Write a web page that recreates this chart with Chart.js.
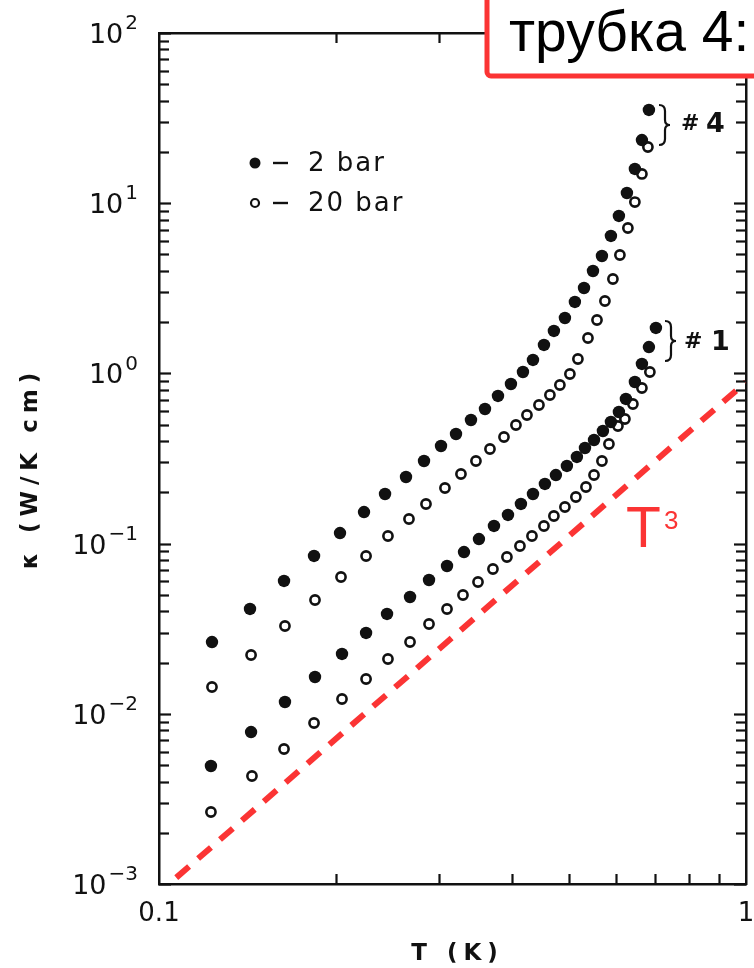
<!DOCTYPE html>
<html><head><meta charset="utf-8">
<script src="https://cdn.jsdelivr.net/npm/chart.js@4.4.1/dist/chart.umd.min.js"></script>
<style>html,body{margin:0;padding:0;background:#fff;overflow:hidden}canvas{display:block}</style>
</head><body>
<canvas id="c" width="754" height="968"></canvas>
<script>
// ---- data (T in K, kappa in W/K cm) ----
const T_4_2bar = [0.1231,0.1429,0.1633,0.1837,0.2034,0.2235,0.2427,0.2635,0.2828,0.3023,0.3206,0.3400,0.3592,0.3780,0.3977,0.4169,0.4336,0.4527,0.4707,0.4915,0.5111,0.5297,0.5487,0.5683,0.5887,0.6074,0.6268,0.6467,0.6648,0.6833];
const K_4_2bar = [0.0264,0.0413,0.0603,0.0846,0.1154,0.1533,0.1956,0.2462,0.3057,0.3745,0.4405,0.5323,0.6178,0.7368,0.8664,1.019,1.199,1.469,1.775,2.116,2.628,3.175,3.996,4.895,6.418,8.413,11.48,15.89,23.51,35.29];

const T_4_20bar = [0.1231,0.1435,0.1639,0.1844,0.2042,0.2253,0.2455,0.2666,0.2850,0.3070,0.3269,0.3467,0.3663,0.3870,0.4056,0.4235,0.4439,0.4634,0.4819,0.5012,0.5172,0.5380,0.5574,0.5750,0.5933,0.6098,0.6292,0.6467,0.6648,0.6806];
const K_4_20bar = [0.01437,0.02216,0.0328,0.04663,0.06366,0.08455,0.1108,0.1395,0.1709,0.2121,0.2564,0.3057,0.3596,0.4230,0.4974,0.5695,0.6523,0.7466,0.8548,0.9919,1.215,1.614,2.060,2.663,3.586,4.962,7.150,10.16,14.85,21.39];

const T_1_2bar = [0.1226,0.1435,0.1639,0.1844,0.2050,0.2253,0.2446,0.2677,0.2884,0.3095,0.3308,0.3508,0.3721,0.3931,0.4136,0.4336,0.4544,0.4744,0.4953,0.5151,0.5317,0.5509,0.5705,0.5887,0.6074,0.6243,0.6467,0.6648,0.6833,0.7023];
const K_1_2bar = [0.004935,0.007816,0.01173,0.01645,0.02246,0.02984,0.03859,0.04856,0.06112,0.07385,0.08922,0.1064,0.1269,0.1473,0.1709,0.1956,0.2240,0.2529,0.2858,0.3228,0.3645,0.4062,0.4587,0.5181,0.5932,0.7075,0.8902,1.136,1.429,1.849];

const T_1_20bar = [0.1226,0.1440,0.1633,0.1837,0.2050,0.2253,0.2455,0.2677,0.2884,0.3095,0.3295,0.3495,0.3706,0.3915,0.4120,0.4319,0.4527,0.4707,0.4915,0.5131,0.5338,0.5509,0.5683,0.5841,0.6051,0.6219,0.6417,0.6648,0.6859];
const K_1_20bar = [0.002649,0.004311,0.006211,0.008829,0.01222,0.01601,0.02099,0.02642,0.03370,0.04128,0.04989,0.05949,0.07091,0.08341,0.09681,0.1108,0.1269,0.1453,0.1641,0.1878,0.2150,0.2529,0.3057,0.3848,0.4907,0.5395,0.6611,0.8209,1.019];

// red dashed T^3 guide line (end points)
const T3_T = [0.107, 1.0];
const T3_K = [0.00109, 0.89];

// axis tick labels
const yTickVals = [0.001, 0.01, 0.1, 1, 10, 100];
const yTickExp  = ['\u22123', '\u22122', '\u22121', '0', '1', '2'];
const xTickVals = [0.1, 1];
const xTickText = ['0.1', '1'];

const legendText = ['2 bar', '20 bar'];
const xTitle = 'T (K)';
const yTitle = '\u03BA (W/K cm)';
const boxText = 'трубка 4:';

// ---- styling ----
const INK = '#111111';
const RED = '#fb3434';
const FONT = '"DejaVu Sans", sans-serif';

const pts = (xs, ys) => xs.map((x, i) => ({x: x, y: ys[i]}));
const filled = (d) => ({data: d, showLine: false, pointRadius: 6.2, pointHoverRadius: 6.2,
  pointBackgroundColor: INK, pointBorderColor: INK, pointBorderWidth: 0});
const open = (d) => ({data: d, showLine: false, pointRadius: 4.6, pointHoverRadius: 4.6,
  pointBackgroundColor: '#fff', pointBorderColor: INK, pointBorderWidth: 2.6});

const decor = {
  id: 'decor',
  afterDraw(chart) {
    const c = chart.ctx, xs = chart.scales.x, ys = chart.scales.y, a = chart.chartArea;
    const line = (x1, y1, x2, y2) => { c.beginPath(); c.moveTo(x1, y1); c.lineTo(x2, y2); c.stroke(); };
    c.save();
    c.strokeStyle = INK; c.fillStyle = INK; c.lineWidth = 2.2; c.lineCap = 'butt';
    // inner ticks, y (left & right)
    for (let e = -3; e <= 2; e++) {
      for (let m = 1; m <= 9; m++) {
        const v = m * Math.pow(10, e);
        if (v > 100.0001) break;
        const y = Math.round(ys.getPixelForValue(v)) + 0.5;
        const L = (m === 1) ? 12 : 10;
        line(a.left, y, a.left + L, y);
        line(a.right, y, a.right - L, y);
      }
    }
    // inner ticks, x (bottom & top)
    for (let m = 2; m <= 9; m++) {
      const x = Math.round(xs.getPixelForValue(m / 10)) + 0.5;
      line(x, a.bottom, x, a.bottom - 10);
      line(x, a.top, x, a.top + 10);
    }
    // y tick labels 10^n
    c.textBaseline = 'middle'; c.textAlign = 'right';
    yTickVals.forEach((v, i) => {
      const y = ys.getPixelForValue(v) + 3;
      c.font = '20px ' + FONT;
      const ew = c.measureText(yTickExp[i]).width;
      c.fillText(yTickExp[i], 138, y - 12);
      c.font = '27px ' + FONT;
      c.fillText('10', 138 - ew - 2, y);
    });
    // x tick labels
    c.textAlign = 'center';
    c.font = '26px ' + FONT;
    xTickVals.forEach((v, i) => {
      c.fillText(xTickText[i], xs.getPixelForValue(v), a.bottom + 30);
    });
    // axis titles
    c.font = 'bold 23px ' + FONT;
    c.letterSpacing = '6px';
    c.fillText(xTitle, (a.left + a.right) / 2 + 5, a.bottom + 70);
    c.save();
    c.translate(31, 468);
    c.rotate(-Math.PI / 2);
    c.letterSpacing = '6px';
    c.fillText(yTitle, 0, 0);
    c.restore();
    c.letterSpacing = '0px';
    // legend
    c.textAlign = 'left';
    c.font = '26px ' + FONT;
    c.letterSpacing = '2px';
    c.beginPath(); c.arc(255, 163, 5.5, 0, Math.PI * 2); c.fill();
    c.beginPath(); c.arc(255, 203, 4, 0, Math.PI * 2); c.lineWidth = 2.2; c.stroke();
    c.lineWidth = 2.4;
    line(273, 163, 288, 163);
    line(273, 203, 288, 203);
    c.fillText(legendText[0], 308, 164);
    c.fillText(legendText[1], 308, 204);
    c.letterSpacing = '0px';
    // braces with sample labels
    const brace = (x, y1, y2) => {
      const ym = (y1 + y2) / 2, w = 6;
      c.lineWidth = 2.2;
      c.beginPath();
      c.moveTo(x, y1);
      c.quadraticCurveTo(x + w, y1, x + w, y1 + 6);
      c.lineTo(x + w, ym - 5);
      c.quadraticCurveTo(x + w, ym, x + w + 5, ym);
      c.quadraticCurveTo(x + w, ym, x + w, ym + 5);
      c.lineTo(x + w, y2 - 6);
      c.quadraticCurveTo(x + w, y2, x, y2);
      c.stroke();
    };
    brace(659, 105, 145);
    brace(665, 321, 361);
    c.font = 'bold 22px ' + FONT;
    c.fillText('#', 681, 124);
    c.fillText('#', 684, 342);
    c.font = 'bold 27px ' + FONT;
    c.fillText('4', 706, 125);
    c.fillText('1', 711, 343);
    // T^3 label
    c.fillStyle = RED;
    c.textBaseline = 'alphabetic';
    c.font = '57px "Liberation Sans", Arial, sans-serif';
    c.fillText('T', 626, 547);
    c.font = '26px "Liberation Sans", Arial, sans-serif';
    c.fillText('3', 664, 529);
    // red framed box at top right
    c.fillStyle = '#fff';
    c.beginPath(); c.roundRect(487, -10, 290, 86, 4); c.fill();
    c.strokeStyle = RED; c.lineWidth = 5;
    c.beginPath(); c.roundRect(487, -10, 290, 86, 4); c.stroke();
    c.fillStyle = '#000';
    c.font = '57px "Liberation Sans", Arial, sans-serif';
    c.fillText(boxText, 509, 51);
    c.restore();
  }
};

const scaleBase = (pos, min, max, isX) => ({
  type: 'logarithmic', position: pos, min: min, max: max,
  ticks: {display: false}, grid: {display: false},
  border: {display: true, color: INK, width: 2.5},
  afterFit: (s) => { if (isX) s.height = 0; else s.width = 0; }
});

new Chart(document.getElementById('c'), {
  type: 'scatter',
  data: {
    datasets: [
      Object.assign({label: '#4 2 bar'}, filled(pts(T_4_2bar, K_4_2bar))),
      Object.assign({label: '#4 20 bar'}, open(pts(T_4_20bar, K_4_20bar))),
      Object.assign({label: '#1 2 bar'}, filled(pts(T_1_2bar, K_1_2bar))),
      Object.assign({label: '#1 20 bar'}, open(pts(T_1_20bar, K_1_20bar))),
      {label: 'T3', data: pts(T3_T, T3_K), showLine: true, order: -1,
       borderColor: RED, borderWidth: 6, borderDash: [17, 12], pointRadius: 0, pointHoverRadius: 0, fill: false}
    ]
  },
  options: {
    responsive: false, animation: false, devicePixelRatio: 1,
    layout: {padding: {left: 159, right: 8, top: 33, bottom: 84}},
    plugins: {legend: {display: false}, tooltip: {enabled: false}},
    scales: {
      x: scaleBase('bottom', 0.1, 1, true),
      x2: scaleBase('top', 0.1, 1, true),
      y: scaleBase('left', 0.001, 100, false),
      y2: scaleBase('right', 0.001, 100, false)
    }
  },
  plugins: [decor]
});
</script>
</body></html>
